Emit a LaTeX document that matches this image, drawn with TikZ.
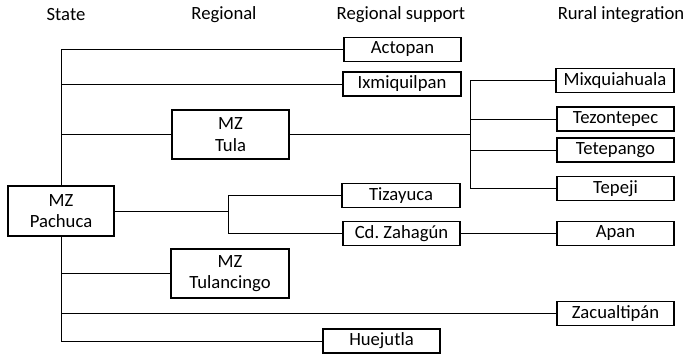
\documentclass[tikz,border=0pt]{standalone}
\usepackage{fontspec}
\setmainfont{Carlito}
\usepackage{tikz}

\tikzset{
  unit/.style={draw, line width=1.3pt, minimum width=88pt, minimum height=18pt, inner sep=0pt, font=\fontsize{14}{16}\selectfont},
  zone/.style={unit, align=center, minimum height=37pt},
  link/.style={line width=0.7pt},
  level/.style={inner sep=0.75pt, font=\fontsize{14}{16}\selectfont}
}

\begin{document}
\begin{tikzpicture}[x=0.75pt,y=0.75pt,yscale=-1,xscale=1]
\useasboundingbox (0,0) rectangle (684,356);

% Text Node
\node [level] (lstate) at (66,15) {State};
% Text Node
\node [level] (lregional) at (224,15) {Regional};
% Text Node
\node [level] (lsupport) at (401,15) {Regional support};
% Text Node
\node [level] (lrural) at (621,15) {Rural integration};

%Shape: Rectangle
\node [zone, minimum width=79pt] (pachuca) at (61,211) {MZ\\Pachuca};
%Shape: Rectangle
\node [zone] (tula) at (230.5,134.5) {MZ\\Tula};
%Shape: Rectangle
\node [zone] (tulancingo) at (230,273.5) {MZ\\Tulancingo};

%Shape: Rectangle
\node [unit] (actopan) at (402.5,49.5) {Actopan};
%Shape: Rectangle
\node [unit] (ixmiquilpan) at (402,84) {Ixmiquilpan};
%Shape: Rectangle
\node [unit] (tizayuca) at (401,195.5) {Tizayuca};
%Shape: Rectangle
\node [unit] (zahagun) at (401.5,233.5) {Cd.\ Zahagún};
%Shape: Rectangle
\node [unit] (huejutla) at (381.5,341) {Huejutla};

%Shape: Rectangle
\node [unit] (mixquiahuala) at (615,80.5) {Mixquiahuala};
%Shape: Rectangle
\node [unit] (tezontepec) at (615.5,119) {Tezontepec};
%Shape: Rectangle
\node [unit] (tetepango) at (615.5,150) {Tetepango};
%Shape: Rectangle
\node [unit] (tepeji) at (615.5,188.5) {Tepeji};
%Shape: Rectangle
\node [unit] (apan) at (615.5,233.5) {Apan};
%Shape: Rectangle
\node [unit] (zacualtipan) at (615.5,313.5) {Zacualtipán};

\coordinate (tulafork) at (470,134.5);
\coordinate (pachfork) at (228,211);

%Straight Lines
\draw [link] (pachuca.north) |- (actopan.west);
%Straight Lines
\draw [link] (pachuca.north) |- (ixmiquilpan.west);
%Straight Lines
\draw [link] (pachuca.north) |- (tula.west);
%Straight Lines
\draw [link] (pachuca.south) |- (tulancingo.west);
%Straight Lines
\draw [link] (pachuca.south) |- (zacualtipan.west);
%Straight Lines
\draw [link] (pachuca.south) |- (huejutla.west);

%Straight Lines
\draw [link] (tula.east) -- (tulafork);
\draw [link] (tulafork) |- (mixquiahuala.west);
\draw [link] (tulafork) |- (tezontepec.west);
\draw [link] (tulafork) |- (tetepango.west);
\draw [link] (tulafork) |- (tepeji.west);

%Straight Lines
\draw [link] (pachuca.east) -- (pachfork);
\draw [link] (pachfork) |- (tizayuca.west);
\draw [link] (pachfork) |- (zahagun.west);
%Straight Lines
\draw [link] (zahagun.east) -- (apan.west);
\end{tikzpicture}
\end{document}
